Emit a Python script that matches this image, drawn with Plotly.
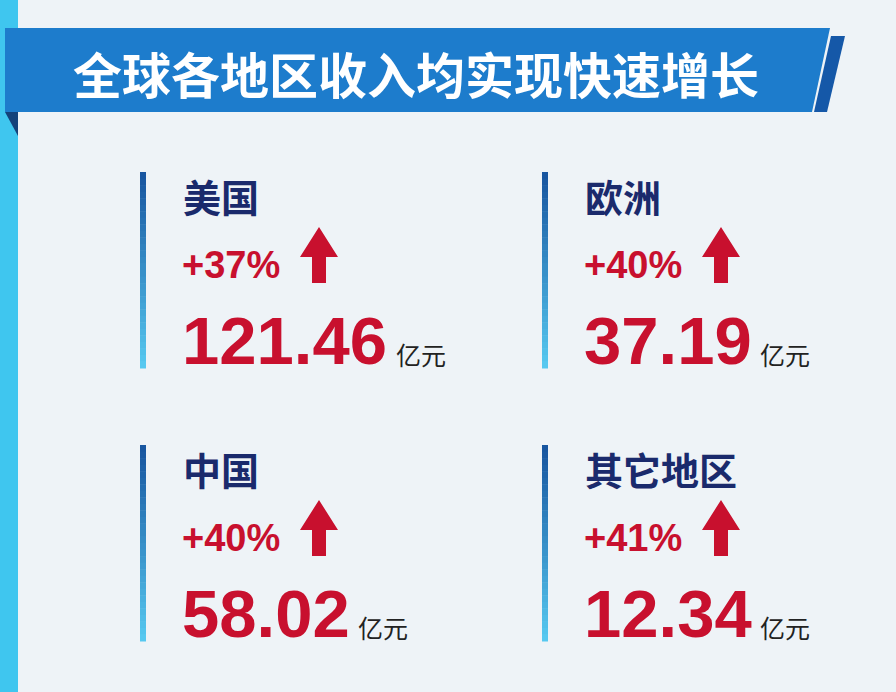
import plotly.graph_objects as go

title = "全球各地区收入均实现快速增长"
regions = ["美国", "欧洲", "中国", "其它地区"]
growth = ["+37%", "+40%", "+40%", "+41%"]
revenue = ["121.46", "37.19", "58.02", "12.34"]
unit = "亿元"

col_x = [140, 542]
row_y = [172, 445]

fig = go.Figure()
shapes = []
ann = []

# background pieces
shapes.append(dict(type="rect", x0=0, x1=18, y0=0, y1=692, fillcolor="#3fc6ef", line_width=0, layer="below"))
shapes.append(dict(type="path", path="M 5 112 L 18 112 L 18 136 Z", fillcolor="#14427a", line_width=0))
shapes.append(dict(type="path", path="M 5 28 L 830 28 L 812 112 L 5 112 Z", fillcolor="#1d7ccc", line_width=0))
shapes.append(dict(type="path", path="M 831 36 L 845 36 L 827 112 L 814 112 Z", fillcolor="#1558a8", line_width=0))
ann.append(dict(x=416, y=72, text="<b>" + title + "</b>", showarrow=False,
                font=dict(size=49, color="white", family="Noto Sans CJK SC")))


def mix(a, b, t):
    return "rgb(%d,%d,%d)" % tuple(int(a[i] + (b[i] - a[i]) * t) for i in range(3))


top_c, bot_c = (24, 86, 160), (86, 200, 240)

for i, name in enumerate(regions):
    x0 = col_x[i % 2]
    y0 = row_y[i // 2]
    n = 30
    h = 196 / n
    for k in range(n):
        shapes.append(dict(type="rect", x0=x0, x1=x0 + 6, y0=y0 + k * h, y1=y0 + (k + 1) * h + 0.5,
                           fillcolor=mix(top_c, bot_c, k / (n - 1)), line_width=0))
    tx = x0 + 43
    ann.append(dict(x=tx - 2, y=y0 + 23, text="<b>" + name + "</b>", xanchor="left", showarrow=False,
                    font=dict(size=38, color="#1a2a6c", family="Noto Sans CJK SC")))
    ann.append(dict(x=tx - 3, y=y0 + 93, text="<b>" + growth[i] + "</b>", xanchor="left", showarrow=False,
                    font=dict(size=38, color="#c8102e", family="Liberation Sans")))
    ax = tx + 136
    ay = y0 + 55
    shapes.append(dict(type="path",
                       path=f"M {ax} {ay} L {ax+19} {ay+30} L {ax+7} {ay+30} L {ax+7} {ay+56} "
                            f"L {ax-7} {ay+56} L {ax-7} {ay+30} L {ax-19} {ay+30} Z",
                       fillcolor="#c8102e", line_width=0))
    v = revenue[i]
    ann.append(dict(x=tx - 3, y=y0 + 168, text="<b>" + v + "</b>", xanchor="left", showarrow=False,
                    font=dict(size=67, color="#c8102e", family="Liberation Sans")))
    w = sum(18.6 if c == "." else 37.2 for c in v)
    ann.append(dict(x=tx + w + 6, y=y0 + 182, text=unit, xanchor="left", showarrow=False,
                    font=dict(size=25, color="#222222", family="Noto Sans CJK SC")))

fig.update_layout(
    width=896, height=692, margin=dict(l=0, r=0, t=0, b=0),
    paper_bgcolor="#eef3f7", plot_bgcolor="#eef3f7",
    xaxis=dict(range=[0, 896], visible=False, fixedrange=True),
    yaxis=dict(range=[692, 0], visible=False, fixedrange=True),
    shapes=shapes, annotations=ann, showlegend=False,
)
fig.write_html("out.html", config={"displayModeBar": False},
               post_script="document.body.style.margin='0';document.body.style.overflow='hidden';")
